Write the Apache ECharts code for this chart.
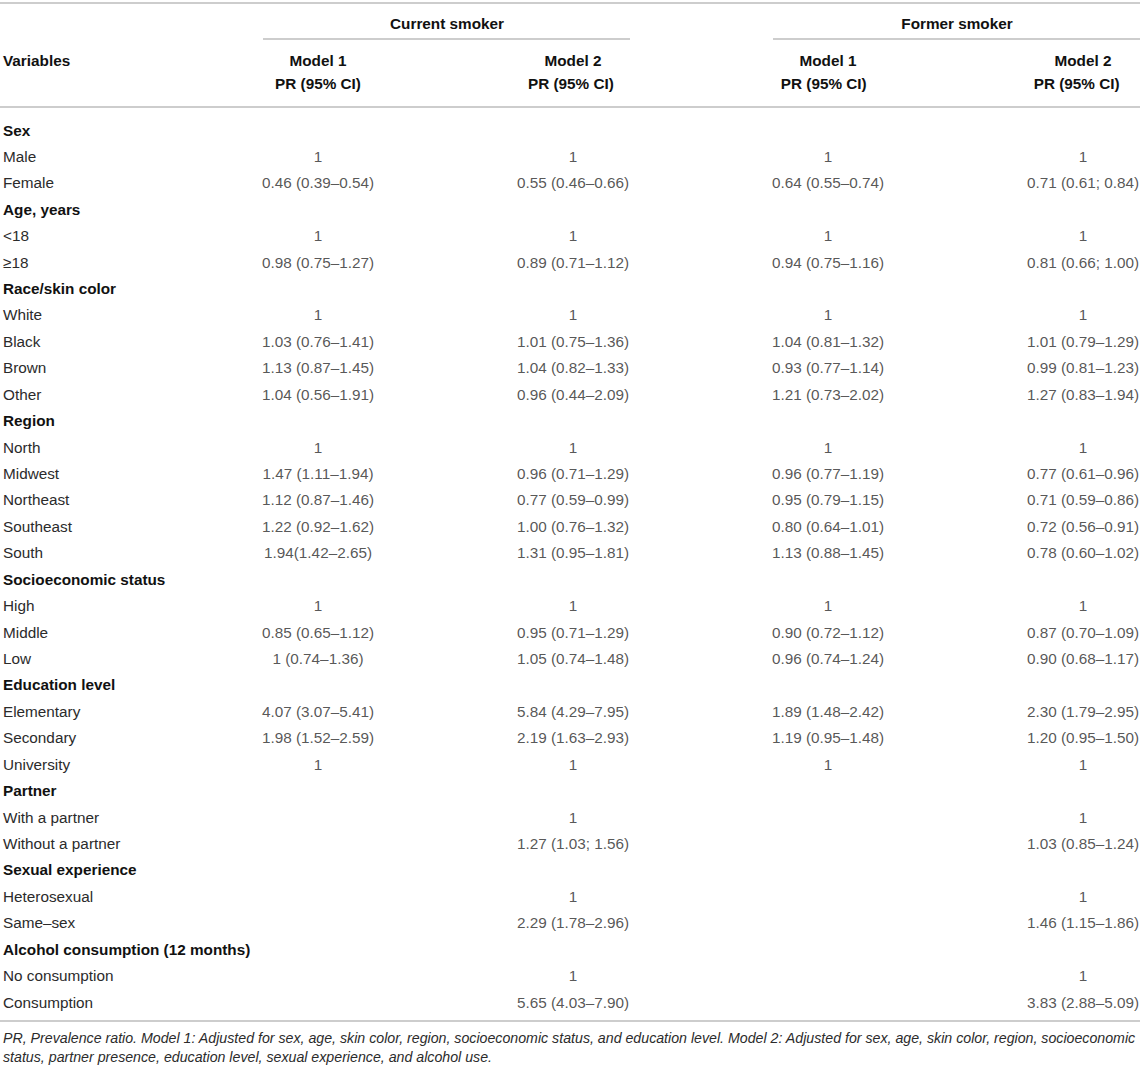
<!DOCTYPE html>
<html>
<head>
<meta charset="utf-8">
<script src="https://cdn.jsdelivr.net/npm/echarts@6/dist/echarts.min.js"></script>
<style>
html,body{margin:0;padding:0;background:#fff;}
#chart{width:1143px;height:1070px;}
</style>
</head>
<body>
<div id="chart"></div>
<script>
var rows = ['Sex','Male','Female','Age, years','<18','≥18','Race/skin color','White','Black','Brown','Other',
  'Region','North','Midwest','Northeast','Southeast','South','Socioeconomic status','High','Middle','Low',
  'Education level','Elementary','Secondary','University','Partner','With a partner','Without a partner',
  'Sexual experience','Heterosexual','Same–sex','Alcohol consumption (12 months)','No consumption','Consumption'];
var headerRows = ['Sex','Age, years','Race/skin color','Region','Socioeconomic status','Education level',
  'Partner','Sexual experience','Alcohol consumption (12 months)'];
var columns = ['Model 1\nPR (95% CI)','Model 2\nPR (95% CI) ','Model 1\nPR (95% CI)  ','Model 2\nPR (95% CI)   '];
var groups = ['Current smoker','Former smoker'];

var currentM1 = ['', '1','0.46 (0.39–0.54)',
  '', '1','0.98 (0.75–1.27)',
  '', '1','1.03 (0.76–1.41)','1.13 (0.87–1.45)','1.04 (0.56–1.91)',
  '', '1','1.47 (1.11–1.94)','1.12 (0.87–1.46)','1.22 (0.92–1.62)','1.94(1.42–2.65)',
  '', '1','0.85 (0.65–1.12)','1 (0.74–1.36)',
  '', '4.07 (3.07–5.41)','1.98 (1.52–2.59)','1',
  '', '', '',
  '', '', '',
  '', '', ''];
var currentM2 = ['', '1','0.55 (0.46–0.66)',
  '', '1','0.89 (0.71–1.12)',
  '', '1','1.01 (0.75–1.36)','1.04 (0.82–1.33)','0.96 (0.44–2.09)',
  '', '1','0.96 (0.71–1.29)','0.77 (0.59–0.99)','1.00 (0.76–1.32)','1.31 (0.95–1.81)',
  '', '1','0.95 (0.71–1.29)','1.05 (0.74–1.48)',
  '', '5.84 (4.29–7.95)','2.19 (1.63–2.93)','1',
  '', '1','1.27 (1.03; 1.56)',
  '', '1','2.29 (1.78–2.96)',
  '', '1','5.65 (4.03–7.90)'];
var formerM1 = ['', '1','0.64 (0.55–0.74)',
  '', '1','0.94 (0.75–1.16)',
  '', '1','1.04 (0.81–1.32)','0.93 (0.77–1.14)','1.21 (0.73–2.02)',
  '', '1','0.96 (0.77–1.19)','0.95 (0.79–1.15)','0.80 (0.64–1.01)','1.13 (0.88–1.45)',
  '', '1','0.90 (0.72–1.12)','0.96 (0.74–1.24)',
  '', '1.89 (1.48–2.42)','1.19 (0.95–1.48)','1',
  '', '', '',
  '', '', '',
  '', '', ''];
var formerM2 = ['', '1','0.71 (0.61; 0.84)',
  '', '1','0.81 (0.66; 1.00)',
  '', '1','1.01 (0.79–1.29)','0.99 (0.81–1.23)','1.27 (0.83–1.94)',
  '', '1','0.77 (0.61–0.96)','0.71 (0.59–0.86)','0.72 (0.56–0.91)','0.78 (0.60–1.02)',
  '', '1','0.87 (0.70–1.09)','0.90 (0.68–1.17)',
  '', '2.30 (1.79–2.95)','1.20 (0.95–1.50)','1',
  '', '1','1.03 (0.85–1.24)',
  '', '1','1.46 (1.15–1.86)',
  '', '1','3.83 (2.88–5.09)'];
var footnote = 'PR, Prevalence ratio. Model 1: Adjusted for sex, age, skin color, region, socioeconomic status, and education level. Model 2: Adjusted for sex, age, skin color, region, socioeconomic\nstatus, partner presence, education level, sexual experience, and alcohol use.';

var FONT = '"Liberation Sans", Arial, Helvetica, sans-serif';
var FS = 15.3;
var TXT = '#2b2b2b';
var BOLD = '#111';
var LINE = '#bcbcbc';

var colData = [currentM1, currentM2, formerM1, formerM2];
var series = colData.map(function (arr, ci) {
  var data = [];
  arr.forEach(function (v, ri) {
    if (v !== '') data.push({ value: [ci, ri], text: v });
  });
  return {
    type: 'scatter',
    symbolSize: 0,
    silent: true,
    data: data,
    label: {
      show: true, position: 'inside',
      formatter: function (p) { return p.data.text; },
      color: TXT, fontSize: FS, fontFamily: FONT
    }
  };
});

var chart = echarts.init(document.getElementById('chart'), null, { renderer: 'svg' });
chart.setOption({
  animation: false,
  backgroundColor: '#fff',
  grid: { left: 318, right: 60, top: 130, bottom: 68, containLabel: false },
  xAxis: {
    type: 'category', position: 'top', boundaryGap: false,
    data: columns,
    axisLine: { show: false }, axisTick: { show: false }, splitLine: { show: false },
    axisLabel: {
      interval: 0, margin: 35, color: BOLD, fontWeight: 'bold',
      fontSize: FS, fontFamily: FONT, lineHeight: 23, align: 'center'
    }
  },
  yAxis: {
    type: 'category', inverse: true, boundaryGap: false,
    data: rows,
    axisLine: { show: false }, axisTick: { show: false }, splitLine: { show: false },
    axisLabel: {
      interval: 0, margin: 315, align: 'left',
      formatter: function (v) {
        return headerRows.indexOf(v) >= 0 ? '{b|' + v + '}' : '{n|' + v + '}';
      },
      rich: {
        b: { fontWeight: 'bold', color: BOLD, fontSize: FS, fontFamily: FONT },
        n: { color: TXT, fontSize: FS, fontFamily: FONT }
      }
    }
  },
  series: series,
  graphic: [
    { type: 'line', shape: { x1: 0, y1: 3, x2: 1140, y2: 3 }, style: { stroke: LINE, lineWidth: 1.5 } },
    { type: 'line', shape: { x1: 263, y1: 39, x2: 630, y2: 39 }, style: { stroke: LINE, lineWidth: 1.5 } },
    { type: 'line', shape: { x1: 773, y1: 39, x2: 1140, y2: 39 }, style: { stroke: LINE, lineWidth: 1.5 } },
    { type: 'line', shape: { x1: 0, y1: 107, x2: 1140, y2: 107 }, style: { stroke: LINE, lineWidth: 1.5 } },
    { type: 'line', shape: { x1: 0, y1: 1021, x2: 1140, y2: 1021 }, style: { stroke: LINE, lineWidth: 1.5 } },
    { type: 'text', x: 447, y: 23, style: { text: groups[0], fill: BOLD, font: 'bold ' + FS + 'px ' + FONT, textAlign: 'center', textVerticalAlign: 'middle' } },
    { type: 'text', x: 957, y: 23, style: { text: groups[1], fill: BOLD, font: 'bold ' + FS + 'px ' + FONT, textAlign: 'center', textVerticalAlign: 'middle' } },
    { type: 'text', x: 3, y: 60, style: { text: 'Variables', fill: BOLD, font: 'bold ' + FS + 'px ' + FONT, textAlign: 'left', textVerticalAlign: 'middle' } },
    { type: 'text', x: 3, y: 1028, style: { text: footnote, fill: TXT, font: 'italic 14.2px ' + FONT, lineHeight: 19, textAlign: 'left', textVerticalAlign: 'top' } }
  ]
});
</script>
</body>
</html>
